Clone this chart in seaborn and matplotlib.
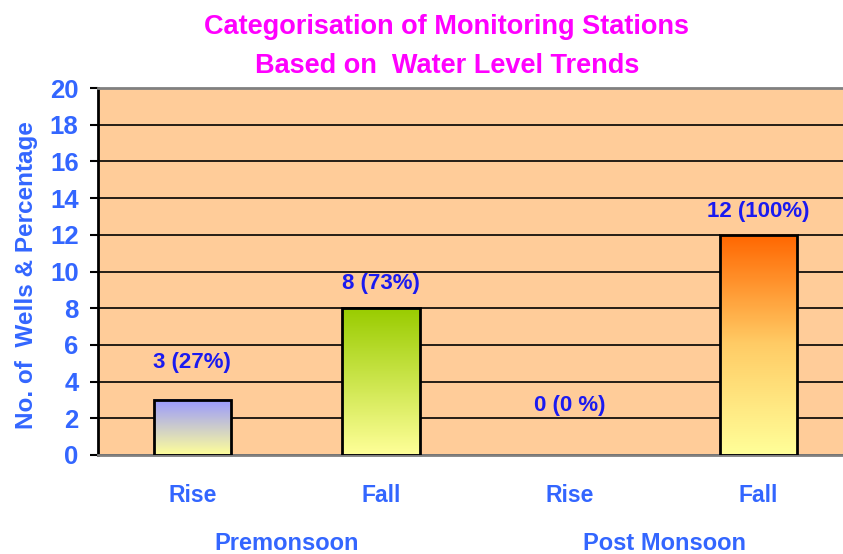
import matplotlib
matplotlib.use('Agg')
import matplotlib.pyplot as plt
import seaborn as sns
import numpy as np
import pandas as pd
from matplotlib.colors import LinearSegmentedColormap

# Daten
bar_keys = ['Pre Rise', 'Pre Fall', 'Post Rise', 'Post Fall']
bar_labels = ['Rise', 'Fall', 'Rise', 'Fall']
wells = [3, 8, 0, 12]
value_texts = ['3 (27%)', '8 (73%)', '0 (0 %)', '12 (100%)']
groups = ['Premonsoon', 'Post Monsoon']
y_ticks = [0, 2, 4, 6, 8, 10, 12, 14, 16, 18, 20]

# Farbverlaeufe der Balken (unten -> oben)
gradients = [
    ['#FFFF99', '#9999FF'],
    ['#FFFF99', '#99CC00'],
    ['#FFFF99', '#FFFF99'],
    ['#FFFF99', '#FFCC66', '#FF6600'],
]
# Abstand der Beschriftung ueber dem Balken (Punkte)
label_offsets = [27, 18, 36, 16.5]

sns.set_theme(style='white')
plt.rcParams['font.family'] = ['Liberation Sans', 'DejaVu Sans']
plt.rcParams['font.weight'] = 'bold'

fig = plt.figure(figsize=(8.43, 5.54), dpi=100)
ax = fig.add_axes([98 / 843, 1 - 455 / 554, 755 / 843, 367 / 554])
ax.set_facecolor('#FFCC99')

df = pd.DataFrame({'key': bar_keys, 'wells': wells})
sns.barplot(data=df, x='key', y='wells', ax=ax, width=0.41, color='none',
            edgecolor='black', linewidth=2, zorder=3)

# Verlauf in jeden Balken legen
for patch, stops in zip(ax.patches, gradients):
    x0, y0 = patch.get_x(), patch.get_y()
    w, h = patch.get_width(), patch.get_height()
    patch.set_facecolor('none')
    if h <= 0:
        patch.set_linewidth(0)
        continue
    cmap = LinearSegmentedColormap.from_list('grad', stops)
    grad = np.linspace(0, 1, 256).reshape(-1, 1)
    ax.imshow(grad, cmap=cmap, origin='lower', aspect='auto',
              extent=(x0, x0 + w, y0, y0 + h), zorder=2.5)

for i, (v, txt) in enumerate(zip(wells, value_texts)):
    ax.annotate(txt, (i, v), xytext=(0, label_offsets[i]), textcoords='offset points',
                ha='center', va='center', color='#1A1AF0', fontsize=16, fontweight='bold')

ax.set_xlim(-0.5, 3.5)
ax.set_ylim(0, 20)
ax.set_yticks(y_ticks)
ax.yaxis.grid(True, color='black', linewidth=1.2, zorder=1)
ax.set_axisbelow(True)
ax.set_xticks(range(len(bar_labels)))
ax.set_xticklabels(bar_labels)
ax.tick_params(axis='x', length=0, pad=21, labelsize=16.5, labelcolor='#3366FF')
ax.tick_params(axis='y', left=True, length=6, width=1.5, color='black', pad=8,
               labelsize=18.5, labelcolor='#3366FF')
for lbl in ax.get_xticklabels() + ax.get_yticklabels():
    lbl.set_fontweight('bold')

ax.set_xlabel('')
ax.set_ylabel('No. of  Wells & Percentage', fontsize=17.5, fontweight='bold', color='#3366FF')
ax.yaxis.set_label_coords(-0.08, 0.49)

for sp in ['top', 'bottom']:
    ax.spines[sp].set_color('#808080')
    ax.spines[sp].set_linewidth(2)
ax.spines['left'].set_color('black')
ax.spines['left'].set_linewidth(2)
ax.spines['right'].set_visible(False)

for gi, g in enumerate(groups):
    ax.text(gi * 2 + 0.5, -0.24, g, transform=ax.get_xaxis_transform(),
            ha='center', va='center', color='#3366FF', fontsize=17, fontweight='bold')

fig.text(447 / 843, 1 - 27 / 554, 'Categorisation of Monitoring Stations',
         ha='center', va='center', color='#FF00FF', fontsize=19.5, fontweight='bold')
fig.text(447 / 843, 1 - 66 / 554, 'Based on  Water Level Trends',
         ha='center', va='center', color='#FF00FF', fontsize=19.5, fontweight='bold')

fig.savefig('out.png', dpi=100, facecolor='white')
